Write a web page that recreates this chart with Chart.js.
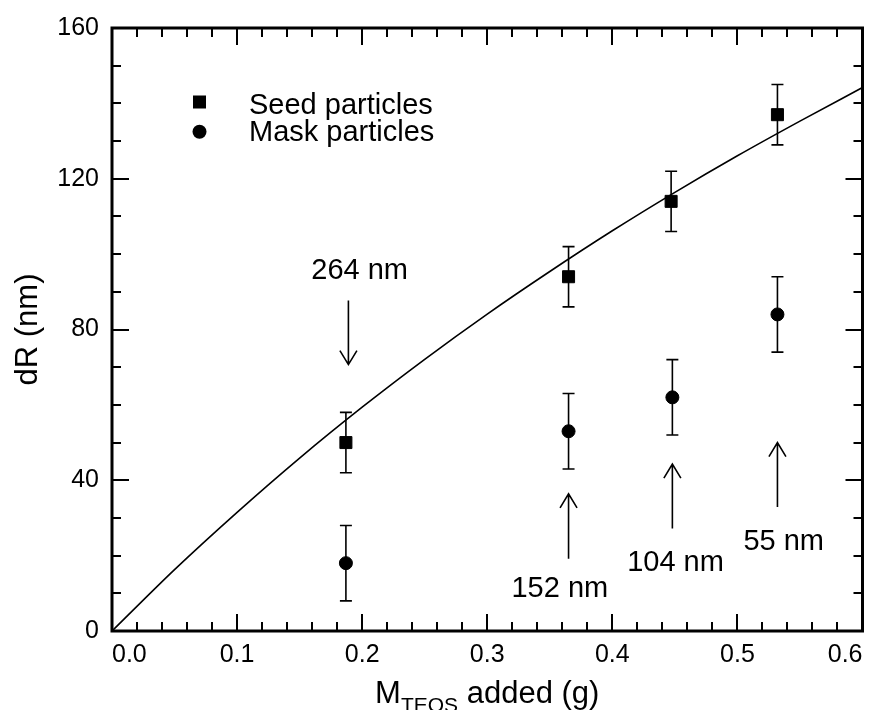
<!DOCTYPE html>
<html><head><meta charset="utf-8">
<script src="https://cdn.jsdelivr.net/npm/chart.js@4"></script>
<style>html,body{margin:0;padding:0;background:#fff}#wrap{width:872px;height:710px}</style>
</head><body><div id="wrap"><canvas id="c" width="872" height="710"></canvas></div>
<script>
// ---- data ----
const seedX = [0.187, 0.365, 0.447, 0.532];
const seedY = [50, 94, 114, 137];
const seedErr = [8, 8, 8, 8];
const maskX = [0.187, 0.365, 0.448, 0.532];
const maskY = [18, 53, 62, 84];
const maskErr = [10, 10, 10, 10];
const fitX = [0, 0.05, 0.1, 0.15, 0.2, 0.25, 0.3, 0.35, 0.4, 0.45, 0.5, 0.55, 0.6];
const fitY = [0, 16.3, 31.5, 45.9, 59.4, 72.1, 84.1, 95.4, 106.2, 116.4, 126.1, 135.3, 144.2];
const seriesNames = ['Seed particles', 'Mask particles'];
const annotLabels = ['264 nm', '152 nm', '104 nm', '55 nm'];
const annotTextX = [0.198, 0.358, 0.4505, 0.537];
const annotTextY = [95.6, 11.2, 18.0, 23.5];
const arrowX = [0.189, 0.365, 0.448, 0.532];
const arrowFrom = [87.7, 19.2, 27.2, 32.9];
const arrowTo = [70.7, 36.4, 44.3, 50.0];
const xTitleMain = 'M', xTitleSub = 'TEOS', xTitleRest = ' added (g)';
const yTitle = 'dR (nm)';

const FONT = '"Liberation Sans", Arial, Helvetica, sans-serif';
const toPts = (xs, ys) => xs.map((v, i) => ({x: v, y: ys[i]}));

const errorBars = {
  id: 'errorBars',
  afterDatasetsDraw(chart) {
    const {ctx, scales: {x, y}} = chart;
    ctx.save();
    ctx.strokeStyle = '#000';
    ctx.lineWidth = 1.6;
    [[seedX, seedY, seedErr], [maskX, maskY, maskErr]].forEach(([xs, ys, es]) => {
      xs.forEach((xv, i) => {
        const px = x.getPixelForValue(xv);
        const top = y.getPixelForValue(ys[i] + es[i]);
        const bot = y.getPixelForValue(ys[i] - es[i]);
        ctx.beginPath();
        ctx.moveTo(px, top); ctx.lineTo(px, bot);
        ctx.moveTo(px - 6, top); ctx.lineTo(px + 6, top);
        ctx.moveTo(px - 6, bot); ctx.lineTo(px + 6, bot);
        ctx.stroke();
      });
    });
    ctx.restore();
  }
};

const frame = {
  id: 'frame',
  afterDraw(chart) {
    const {ctx, chartArea: a, scales: {x, y}} = chart;
    ctx.save();
    ctx.strokeStyle = '#000';
    ctx.lineWidth = 2;
    ctx.beginPath();
    for (let i = 0; i <= 30; i++) {
      const px = Math.round(x.getPixelForValue(i * 0.02));
      const len = i % 5 === 0 ? 17 : 9;
      ctx.moveTo(px, a.bottom); ctx.lineTo(px, a.bottom - len);
      ctx.moveTo(px, a.top); ctx.lineTo(px, a.top + len);
    }
    for (let i = 0; i <= 16; i++) {
      const py = Math.round(y.getPixelForValue(i * 10));
      const len = i % 4 === 0 ? 17 : 9;
      ctx.moveTo(a.left, py); ctx.lineTo(a.left + len, py);
      ctx.moveTo(a.right, py); ctx.lineTo(a.right - len, py);
    }
    ctx.stroke();
    ctx.lineWidth = 3;
    ctx.strokeRect(a.left, a.top, a.right - a.left, a.bottom - a.top);

    // legend
    ctx.fillStyle = '#000';
    ctx.fillRect(193, 95.5, 13, 13);
    ctx.beginPath(); ctx.arc(199.5, 131.7, 7, 0, Math.PI * 2); ctx.fill();
    ctx.font = '29px ' + FONT;
    ctx.textBaseline = 'middle';
    ctx.textAlign = 'left';
    ctx.fillText(seriesNames[0], 249, 105.5);
    ctx.fillText(seriesNames[1], 249, 132.5);

    // annotations
    ctx.textAlign = 'center';
    annotLabels.forEach((t, i) => {
      ctx.fillText(t, x.getPixelForValue(annotTextX[i]), y.getPixelForValue(annotTextY[i]));
      const px = x.getPixelForValue(arrowX[i]);
      const p0 = y.getPixelForValue(arrowFrom[i]);
      const p1 = y.getPixelForValue(arrowTo[i]);
      const dir = p1 > p0 ? 1 : -1;
      ctx.lineWidth = 1.6;
      ctx.beginPath();
      ctx.moveTo(px, p0); ctx.lineTo(px, p1);
      ctx.moveTo(px - 8.5, p1 - dir * 14); ctx.lineTo(px, p1); ctx.lineTo(px + 8.5, p1 - dir * 14);
      ctx.stroke();
    });

    // axis titles
    const big = '31px ' + FONT, small = '21px ' + FONT;
    ctx.textAlign = 'left';
    ctx.textBaseline = 'alphabetic';
    ctx.font = big; const wM = ctx.measureText(xTitleMain).width; const wR = ctx.measureText(xTitleRest).width;
    ctx.font = small; const wS = ctx.measureText(xTitleSub).width;
    let sx = (a.left + a.right) / 2 - (wM + wS + wR) / 2;
    ctx.font = big; ctx.fillText(xTitleMain, sx, 703);
    ctx.font = small; ctx.fillText(xTitleSub, sx + wM, 712);
    ctx.font = big; ctx.fillText(xTitleRest, sx + wM + wS, 703);

    ctx.save();
    ctx.translate(28, (a.top + a.bottom) / 2);
    ctx.rotate(-Math.PI / 2);
    ctx.textAlign = 'center';
    ctx.textBaseline = 'middle';
    ctx.font = big;
    ctx.fillText(yTitle, 0, 0);
    ctx.restore();
    ctx.restore();
  }
};

new Chart(document.getElementById('c'), {
  type: 'scatter',
  data: {
    datasets: [
      {label: 'fit', type: 'line', data: toPts(fitX, fitY), borderColor: '#000', borderWidth: 1.6,
       pointRadius: 0, fill: false, cubicInterpolationMode: 'monotone'},
      {label: seriesNames[0], data: toPts(seedX, seedY), pointStyle: 'rect', pointRadius: 8.5,
       backgroundColor: '#000', borderColor: '#000', borderWidth: 1, clip: false},
      {label: seriesNames[1], data: toPts(maskX, maskY), pointStyle: 'circle', pointRadius: 6.5,
       backgroundColor: '#000', borderColor: '#000', borderWidth: 1, clip: false}
    ]
  },
  options: {
    responsive: false,
    animation: false,
    devicePixelRatio: 1,
    layout: {padding: {top: 26, right: 8, left: 0, bottom: 0}},
    plugins: {legend: {display: false}, tooltip: {enabled: false}},
    scales: {
      x: {
        type: 'linear', min: 0, max: 0.6,
        grid: {display: false, drawTicks: false},
        border: {display: false},
        ticks: {stepSize: 0.1, padding: 9, align: 'inner', color: '#000', maxRotation: 0,
                font: {family: FONT, size: 25}, callback: v => Number(v).toFixed(1)},
        afterFit: s => { s.height = 79; }
      },
      y: {
        type: 'linear', min: 0, max: 160,
        grid: {display: false, drawTicks: false},
        border: {display: false},
        ticks: {stepSize: 40, padding: 13, color: '#000', font: {family: FONT, size: 25}},
        afterFit: s => { s.width = 112; }
      }
    }
  },
  plugins: [errorBars, frame]
});
</script>
</body></html>
